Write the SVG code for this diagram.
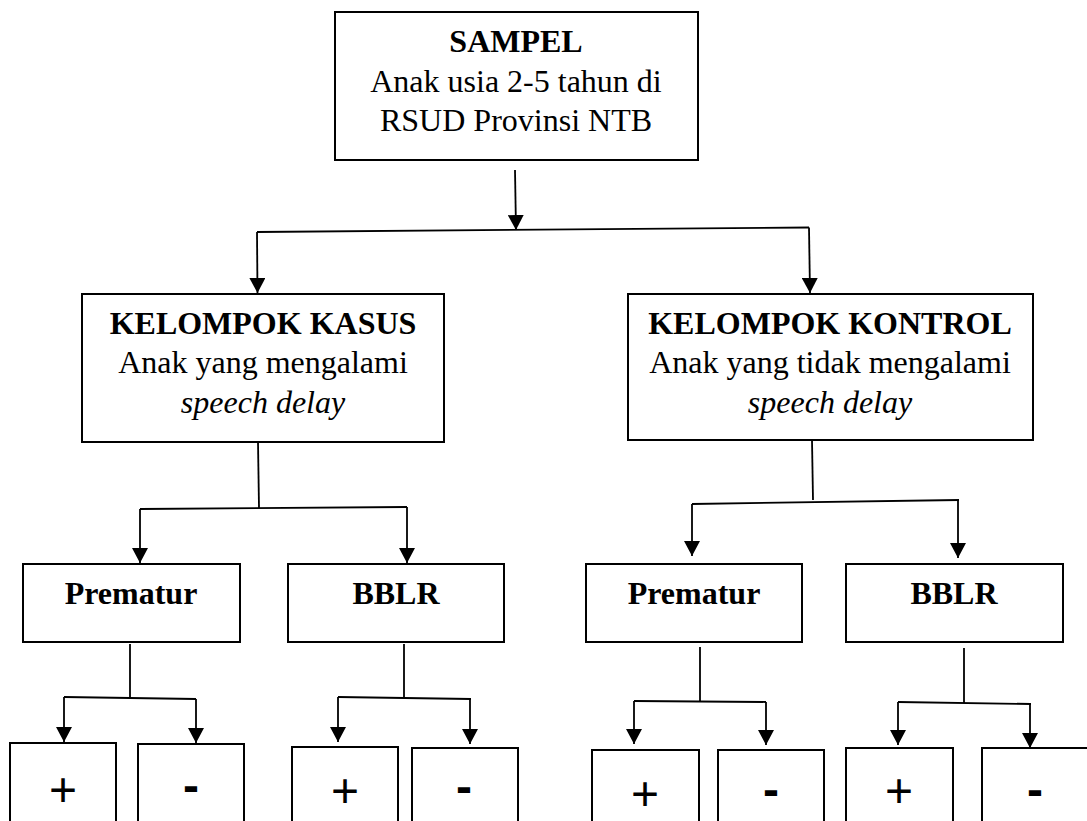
<svg xmlns="http://www.w3.org/2000/svg" width="1087" height="821" viewBox="0 0 1087 821">
<style>
.box{fill:#fff;stroke:#000;stroke-width:2}
.ln{fill:none;stroke:#000;stroke-width:1.8}
.t{font-family:"Liberation Serif","Times New Roman",serif;font-size:32px;fill:#000;text-anchor:middle}
.b{font-weight:bold}
.i{font-style:italic}
.plus{font-family:"Liberation Sans",Arial,sans-serif;font-size:48px;fill:#000;text-anchor:middle}
.minus{font-family:"Liberation Sans",Arial,sans-serif;font-size:48px;font-weight:bold;fill:#000;text-anchor:middle}
</style>
<defs>
<marker id="ah" viewBox="0 0 15 16" refX="15" refY="8" markerWidth="15" markerHeight="16" orient="auto" markerUnits="userSpaceOnUse">
<path d="M0,0 L15,8 L0,16 z" fill="#000"/>
</marker>
</defs>
<rect width="1087" height="821" fill="#fff"/>

<g id="connectors">
<line class="ln" x1="515" y1="170" x2="516" y2="230" marker-end="url(#ah)"/>
<line class="ln" x1="257" y1="232" x2="809" y2="227.5"/>
<line class="ln" x1="257" y1="232" x2="257.5" y2="293" marker-end="url(#ah)"/>
<line class="ln" x1="809" y1="227.5" x2="810" y2="293" marker-end="url(#ah)"/>

<line class="ln" x1="258" y1="442" x2="259" y2="508"/>
<line class="ln" x1="140" y1="509" x2="407" y2="507"/>
<line class="ln" x1="140" y1="509" x2="140" y2="563" marker-end="url(#ah)"/>
<line class="ln" x1="407" y1="507" x2="407" y2="563" marker-end="url(#ah)"/>

<line class="ln" x1="812" y1="440" x2="813" y2="500"/>
<line class="ln" x1="692" y1="504" x2="959" y2="500"/>
<line class="ln" x1="692" y1="504" x2="692" y2="556" marker-end="url(#ah)"/>
<line class="ln" x1="958" y1="500" x2="958" y2="558" marker-end="url(#ah)"/>

<line class="ln" x1="130" y1="644" x2="130" y2="698"/>
<line class="ln" x1="64" y1="697" x2="196" y2="699"/>
<line class="ln" x1="64" y1="697" x2="64" y2="742" marker-end="url(#ah)"/>
<line class="ln" x1="196" y1="699" x2="196" y2="743" marker-end="url(#ah)"/>

<line class="ln" x1="404" y1="644" x2="404" y2="698"/>
<line class="ln" x1="338" y1="697" x2="471" y2="699"/>
<line class="ln" x1="338" y1="697" x2="338" y2="742" marker-end="url(#ah)"/>
<line class="ln" x1="470" y1="699" x2="470" y2="744" marker-end="url(#ah)"/>

<line class="ln" x1="700" y1="647" x2="700" y2="701"/>
<line class="ln" x1="634" y1="701" x2="766" y2="702"/>
<line class="ln" x1="634" y1="701" x2="634" y2="744" marker-end="url(#ah)"/>
<line class="ln" x1="766" y1="702" x2="766" y2="745" marker-end="url(#ah)"/>

<line class="ln" x1="964" y1="648" x2="964" y2="703"/>
<line class="ln" x1="898" y1="702" x2="1031" y2="704"/>
<line class="ln" x1="898" y1="702" x2="898" y2="745" marker-end="url(#ah)"/>
<line class="ln" x1="1030" y1="704" x2="1030" y2="748" marker-end="url(#ah)"/>
</g>

<g id="sampel">
<rect class="box" x="335" y="12" width="363" height="148"/>
<text class="t b" x="516" y="52">SAMPEL</text>
<text class="t" x="516" y="92">Anak usia 2-5 tahun di</text>
<text class="t" x="516" y="131">RSUD Provinsi NTB</text>
</g>

<g id="kasus">
<rect class="box" x="82" y="294" width="362" height="148"/>
<text class="t b" x="263" y="334">KELOMPOK KASUS</text>
<text class="t" x="263" y="373">Anak yang mengalami</text>
<text class="t i" x="263" y="413">speech delay</text>
</g>

<g id="kontrol">
<rect class="box" x="628" y="294" width="405" height="146"/>
<text class="t b" x="830" y="334">KELOMPOK KONTROL</text>
<text class="t" x="830" y="373">Anak yang tidak mengalami</text>
<text class="t i" x="830" y="413">speech delay</text>
</g>

<g id="kasus-prematur">
<rect class="box" x="23" y="564" width="217" height="78"/>
<text class="t b" x="131" y="604">Prematur</text>
</g>
<g id="kasus-bblr">
<rect class="box" x="288" y="564" width="216" height="78"/>
<text class="t b" x="396" y="604">BBLR</text>
</g>
<g id="kontrol-prematur">
<rect class="box" x="586" y="564" width="216" height="78"/>
<text class="t b" x="694" y="604">Prematur</text>
</g>
<g id="kontrol-bblr">
<rect class="box" x="846" y="564" width="217" height="78"/>
<text class="t b" x="954" y="604">BBLR</text>
</g>

<g id="kasus-prematur-pos">
<rect class="box" x="10" y="743" width="106" height="90"/>
<text class="plus" x="63" y="805.5">+</text>
</g>
<g id="kasus-prematur-neg">
<rect class="box" x="138" y="744" width="106" height="90"/>
<text class="minus" x="191" y="801.5">-</text>
</g>
<g id="kasus-bblr-pos">
<rect class="box" x="292" y="747" width="106" height="90"/>
<text class="plus" x="345" y="807">+</text>
</g>
<g id="kasus-bblr-neg">
<rect class="box" x="412" y="748" width="106" height="90"/>
<text class="minus" x="464" y="803">-</text>
</g>
<g id="kontrol-prematur-pos">
<rect class="box" x="592" y="750" width="107" height="90"/>
<text class="plus" x="645" y="810">+</text>
</g>
<g id="kontrol-prematur-neg">
<rect class="box" x="718" y="750" width="106" height="90"/>
<text class="minus" x="771" y="806">-</text>
</g>
<g id="kontrol-bblr-pos">
<rect class="box" x="846" y="748" width="107" height="90"/>
<text class="plus" x="899" y="807">+</text>
</g>
<g id="kontrol-bblr-neg">
<rect class="box" x="982" y="748" width="107" height="90"/>
<text class="minus" x="1035" y="806">-</text>
</g>
</svg>
